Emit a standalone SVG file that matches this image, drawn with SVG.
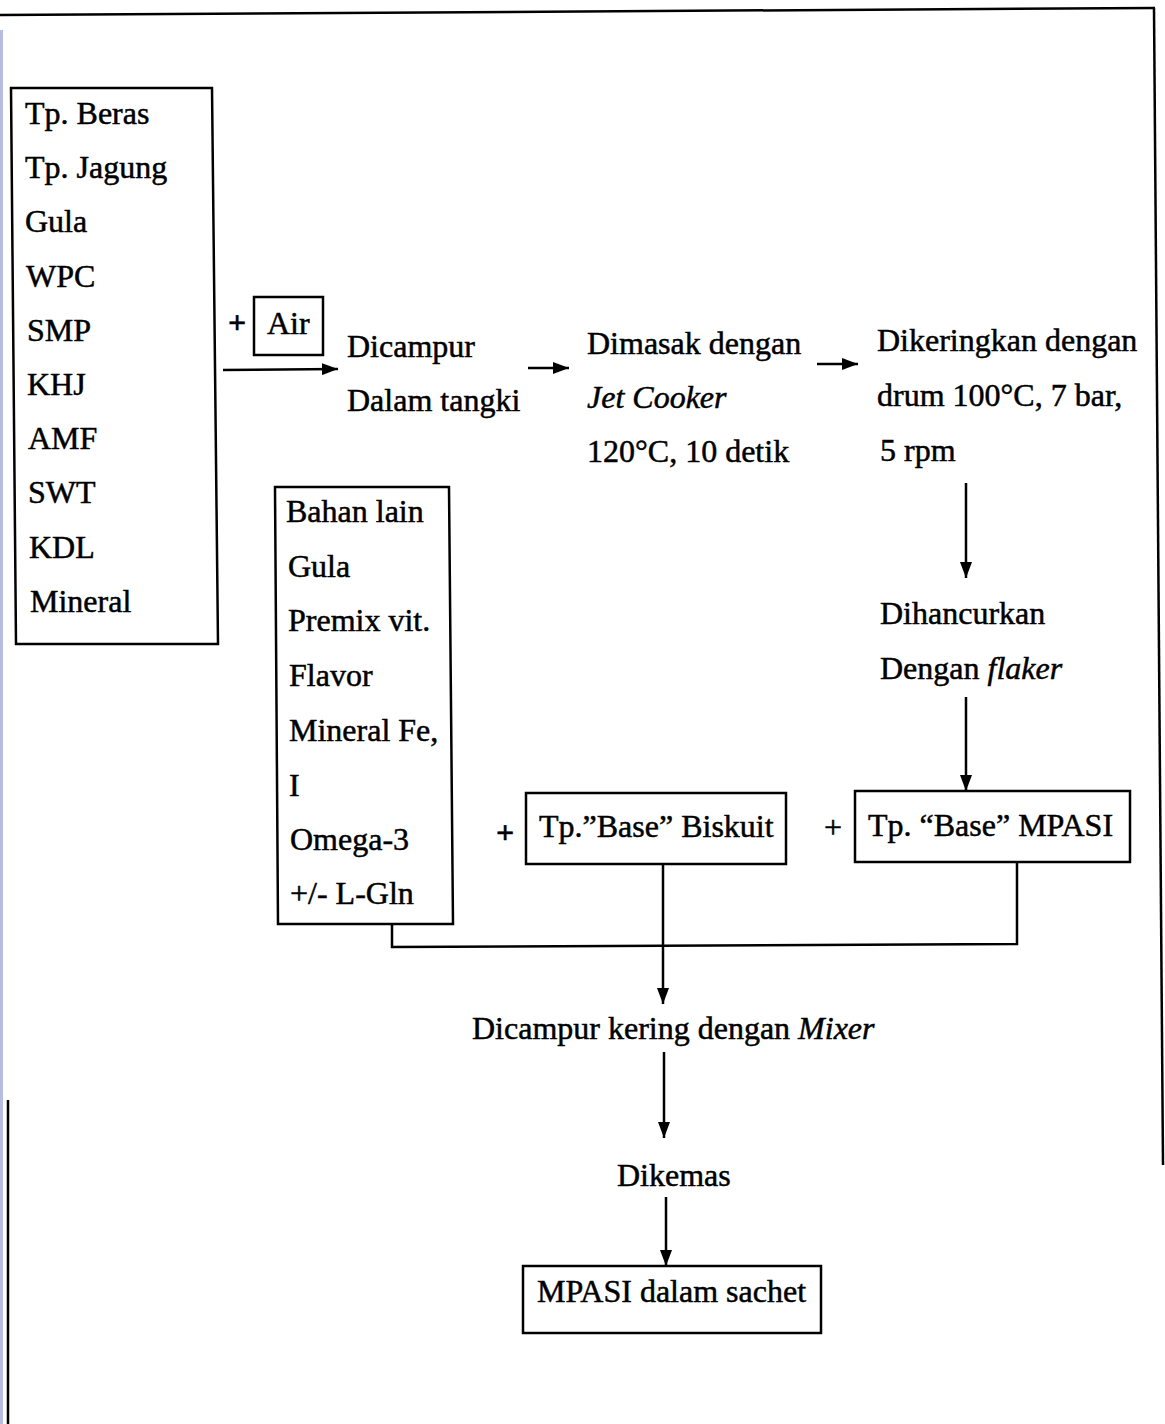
<svg xmlns="http://www.w3.org/2000/svg" width="1165" height="1424" viewBox="0 0 1165 1424">
  <style>
    .t { font-family: "Liberation Serif", "Times New Roman", serif; font-size: 32px; fill: #000; stroke: #000; stroke-width: 0.5; }
    .i { font-style: italic; }
    .b { font-weight: bold; }
    .box { fill: none; stroke: #000; stroke-width: 2.5; }
    .ln { fill: none; stroke: #000; stroke-width: 2.5; }
    .frame { fill: none; stroke: #000; stroke-width: 2.5; }
  </style>
  <defs>
    <marker id="arrow" viewBox="0 0 16 12" refX="16" refY="6" markerWidth="16" markerHeight="12" markerUnits="userSpaceOnUse" orient="auto">
      <path d="M0,0 L16,6 L0,12 z" fill="#000"/>
    </marker>
  </defs>

  <rect width="1165" height="1424" fill="#fff"/>

  <!-- page frame -->
  <g id="frame">
    <rect x="0" y="30" width="3" height="1394" fill="#b7bde0"/>
    <line class="frame" x1="0" y1="15" x2="1155" y2="8"/>
    <line class="frame" x1="1154" y1="8" x2="1163" y2="1165"/>
    <line class="frame" x1="8" y1="1100" x2="8" y2="1424"/>
  </g>

  <!-- raw ingredients -->
  <g id="ingredients">
    <polygon class="box" points="11,88 212,88 218,644 16,644"/>
    <text class="t" x="25" y="124">Tp. Beras</text>
    <text class="t" x="25" y="178">Tp. Jagung</text>
    <text class="t" x="25" y="232">Gula</text>
    <text class="t" x="26" y="287">WPC</text>
    <text class="t" x="27" y="341">SMP</text>
    <text class="t" x="27" y="395">KHJ</text>
    <text class="t" x="28" y="449">AMF</text>
    <text class="t" x="28" y="503">SWT</text>
    <text class="t" x="29" y="558">KDL</text>
    <text class="t" x="30" y="612">Mineral</text>
  </g>

  <g id="air">
    <text class="t b" x="228" y="333">+</text>
    <rect class="box" x="254" y="297" width="69" height="58"/>
    <text class="t" x="267" y="334">Air</text>
  </g>

  <g id="mix-tank">
    <text class="t" x="347" y="357">Dicampur</text>
    <text class="t" x="347" y="411">Dalam tangki</text>
  </g>

  <g id="jet-cooker">
    <text class="t" x="587" y="354">Dimasak dengan</text>
    <text class="t i" x="587" y="408">Jet Cooker</text>
    <text class="t" x="587" y="462">120°C, 10 detik</text>
  </g>

  <g id="drum-dryer">
    <text class="t" x="877" y="351">Dikeringkan dengan</text>
    <text class="t" x="877" y="406">drum 100°C, 7 bar,</text>
    <text class="t" x="880" y="461">5 rpm</text>
  </g>

  <g id="flaker">
    <text class="t" x="880" y="624">Dihancurkan</text>
    <text class="t" x="880" y="679">Dengan <tspan class="i">flaker</tspan></text>
  </g>

  <g id="base-mpasi">
    <text class="t" x="824" y="838">+</text>
    <rect class="box" x="855" y="791" width="275" height="71"/>
    <text class="t" x="868" y="836">Tp. “Base” MPASI</text>
  </g>

  <g id="base-biskuit">
    <text class="t b" x="496" y="843">+</text>
    <rect class="box" x="526" y="793" width="260" height="71"/>
    <text class="t" x="539" y="837">Tp.”Base” Biskuit</text>
  </g>

  <g id="other-ingredients">
    <polygon class="box" points="275,487 449,487 453,924 278,924"/>
    <text class="t" x="286" y="522">Bahan lain</text>
    <text class="t" x="288" y="577">Gula</text>
    <text class="t" x="288" y="631">Premix vit.</text>
    <text class="t" x="289" y="686">Flavor</text>
    <text class="t" x="289" y="741">Mineral Fe,</text>
    <text class="t" x="289" y="796">I</text>
    <text class="t" x="290" y="850">Omega-3</text>
    <text class="t" x="290" y="904">+/- L-Gln</text>
  </g>

  <g id="dry-mix">
    <text class="t" x="472" y="1039">Dicampur kering dengan <tspan class="i">Mixer</tspan></text>
  </g>

  <g id="packing">
    <text class="t" x="617" y="1186">Dikemas</text>
  </g>

  <g id="product">
    <rect class="box" x="523" y="1266" width="298" height="67"/>
    <text class="t" x="537" y="1302">MPASI dalam sachet</text>
  </g>

  <!-- process flow -->
  <g id="connectors">
    <line class="ln" x1="223" y1="370" x2="338" y2="369" marker-end="url(#arrow)"/>
    <line class="ln" x1="528" y1="368" x2="569" y2="368" marker-end="url(#arrow)"/>
    <line class="ln" x1="817" y1="364" x2="858" y2="364" marker-end="url(#arrow)"/>
    <line class="ln" x1="966" y1="483" x2="966" y2="578" marker-end="url(#arrow)"/>
    <line class="ln" x1="966" y1="697" x2="966" y2="791" marker-end="url(#arrow)"/>
    <polyline class="ln" points="392,924 392,947 1017,944 1017,862"/>
    <line class="ln" x1="663" y1="864" x2="663" y2="1004" marker-end="url(#arrow)"/>
    <line class="ln" x1="664" y1="1052" x2="664" y2="1138" marker-end="url(#arrow)"/>
    <line class="ln" x1="666" y1="1197" x2="666" y2="1266" marker-end="url(#arrow)"/>
  </g>
</svg>
